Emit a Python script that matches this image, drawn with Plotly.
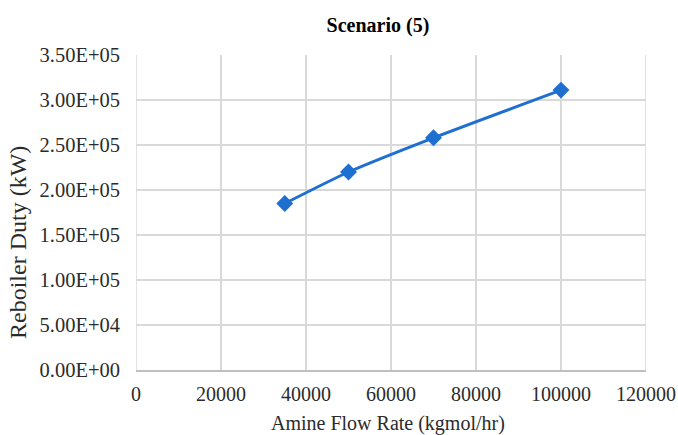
import plotly.graph_objects as go

amine_flow = [35000, 50000, 70000, 100000]
reboiler_duty = [1.85e5, 2.20e5, 2.58e5, 3.11e5]

y_tick_vals = [0, 5e4, 1e5, 1.5e5, 2e5, 2.5e5, 3e5, 3.5e5]
y_tick_text = ["0.00E+00", "5.00E+04", "1.00E+05", "1.50E+05", "2.00E+05", "2.50E+05", "3.00E+05", "3.50E+05"]
x_tick_vals = [0, 20000, 40000, 60000, 80000, 100000, 120000]

font_family = "Liberation Serif, Times New Roman, serif"

fig = go.Figure()
fig.add_trace(go.Scatter(
    x=amine_flow, y=reboiler_duty, mode="lines+markers",
    line=dict(color="#1f6fd1", width=3, shape="spline", smoothing=0.6),
    marker=dict(symbol="diamond", size=13, color="#1f6fd1"),
    showlegend=False,
))

L, R, T, B = 136, 646, 55, 370
W, H = 678, 435

fig.update_layout(
    width=W, height=H,
    margin=dict(l=L, r=W - R, t=T, b=H - B),
    paper_bgcolor="white", plot_bgcolor="white",
    font=dict(family=font_family, color="#2b2b2b", size=20),
    title=dict(text="<b>Scenario (5)</b>", x=378 / W, xanchor="center", y=1 - 25 / H, yanchor="middle",
               font=dict(family=font_family, size=20, color="black"), automargin=False),
)
fig.update_xaxes(
    range=[0, 120000], tickvals=x_tick_vals, tickformat="d",
    showgrid=True, gridcolor="#d9d9d9", gridwidth=1.5,
    showline=True, linecolor="#bfbfbf", linewidth=2, zeroline=False,
    ticks="", ticklabelstandoff=5, automargin=False,
    tickfont=dict(size=20),
)
fig.update_yaxes(
    range=[0, 3.5e5], tickvals=y_tick_vals, ticktext=y_tick_text,
    showgrid=True, gridcolor="#d9d9d9", gridwidth=1.5,
    showline=False, zeroline=False, ticks="", ticklabelstandoff=15, automargin=False,
    tickfont=dict(size=20.5),
)
fig.add_annotation(text="Amine Flow Rate (kgmol/hr)", xref="paper", yref="paper",
                   x=(388 - L) / (R - L), y=(B - 423) / (B - T), xanchor="center", yanchor="middle",
                   showarrow=False, font=dict(size=20))
fig.add_annotation(text="Reboiler Duty (kW)", xref="paper", yref="paper", textangle=-90,
                   x=(18 - L) / (R - L), y=(B - 243) / (B - T), xanchor="center", yanchor="middle",
                   showarrow=False, font=dict(size=24))
fig.add_shape(type="line", xref="x", yref="paper", x0=0, x1=0, y0=0, y1=1,
              line=dict(color="#d9d9d9", width=1.5), layer="below")
fig.add_shape(type="line", xref="x", yref="paper", x0=120000, x1=120000, y0=0, y1=1,
              line=dict(color="#d9d9d9", width=1.5), layer="below")

fig.write_html("out.html", config={"displayModeBar": False},
               post_script="document.body.style.margin='0';document.body.style.padding='0';")
